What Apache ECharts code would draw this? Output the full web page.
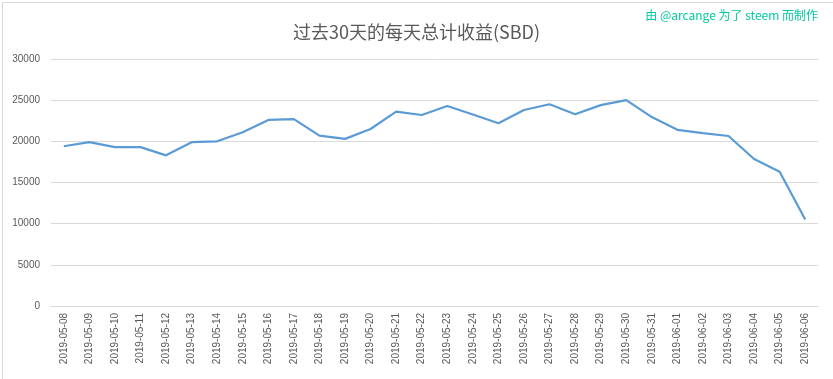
<!DOCTYPE html>
<html>
<head>
<meta charset="utf-8">
<script src="https://cdn.jsdelivr.net/npm/echarts@6/dist/echarts.min.js"></script>
<style>
html,body{margin:0;padding:0;background:#fff;}
#c{width:833px;height:379px;}
</style>
</head>
<body>
<div id="c"></div>
<script>
const titleText = '过去30天的每天总计收益(SBD)';
const creditText = '由 @arcange 为了 steem 而制作';
const dates = ['2019-05-08','2019-05-09','2019-05-10','2019-05-11','2019-05-12','2019-05-13','2019-05-14','2019-05-15','2019-05-16','2019-05-17','2019-05-18','2019-05-19','2019-05-20','2019-05-21','2019-05-22','2019-05-23','2019-05-24','2019-05-25','2019-05-26','2019-05-27','2019-05-28','2019-05-29','2019-05-30','2019-05-31','2019-06-01','2019-06-02','2019-06-03','2019-06-04','2019-06-05','2019-06-06'];
const sbd = [19400,19900,19300,19300,18300,19900,20000,21100,22600,22700,20700,20300,21500,23600,23200,24300,23250,22200,23800,24500,23300,24400,25000,22950,21400,21000,20650,17850,16300,10500];
const yMin = 0, yMax = 30000, yStep = 5000;

const chart = echarts.init(document.getElementById('c'), null, {renderer:'canvas'});
chart.setOption({
  animation:false,
  backgroundColor:'#ffffff',
  title:{
    text:titleText, left:'center', top:18,
    textStyle:{fontFamily:'Noto Sans CJK SC', fontSize:18, fontWeight:'normal', color:'#595959'}
  },
  graphic:[
    {type:'rect', left:0, top:0, shape:{x:0.5,y:0.5,width:831,height:377}, style:{fill:'none', stroke:'#d9d9d9', lineWidth:1}, silent:true},
    {type:'text', right:15, top:9, style:{text:creditText, fill:'#00caa0', font:'12px "Noto Sans CJK SC"'}}
  ],
  grid:{left:51, right:15, top:59, bottom:73, containLabel:false},
  xAxis:{
    type:'category', data:dates, boundaryGap:true,
    axisLine:{show:true, lineStyle:{color:'#d9d9d9'}},
    axisTick:{show:false},
    axisLabel:{rotate:90, fontSize:10, color:'#595959', fontFamily:'Liberation Sans', margin:7, interval:0}
  },
  yAxis:{
    type:'value', min:yMin, max:yMax, interval:yStep,
    axisLine:{show:false}, axisTick:{show:false},
    axisLabel:{fontSize:10, color:'#595959', fontFamily:'Liberation Sans', margin:11, formatter:function(v){return String(v);}},
    splitLine:{lineStyle:{color:'#d9d9d9', width:1}}
  },
  series:[{
    type:'line', data:sbd, showSymbol:false, symbol:'none',
    lineStyle:{color:'#5b9bd5', width:2.2},
    itemStyle:{color:'#5b9bd5'}
  }]
});
</script>
</body>
</html>
